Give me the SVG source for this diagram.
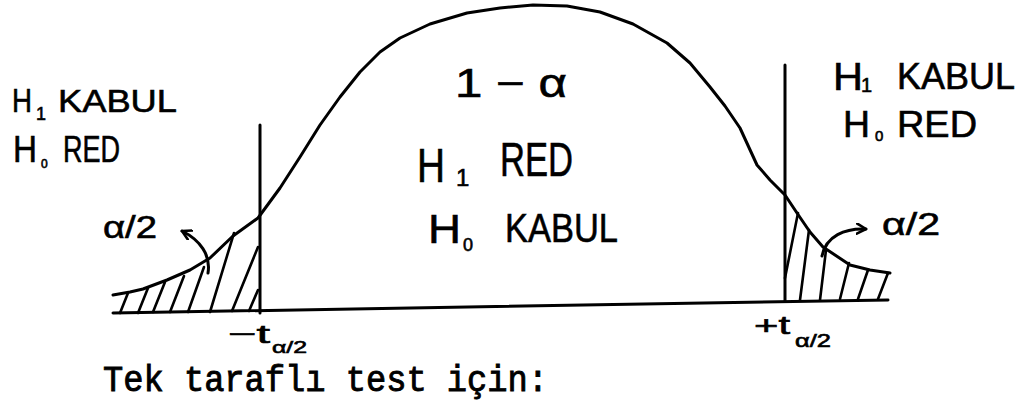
<svg xmlns="http://www.w3.org/2000/svg" width="1022" height="401" viewBox="0 0 1022 401">
<defs>
<style>
.ln{fill:none;stroke:#000;stroke-width:3;stroke-linecap:round;stroke-linejoin:round}
.h{fill:none;stroke:#000;stroke-width:2.6;stroke-linecap:round}
.hw{font-family:"Liberation Sans","DejaVu Sans",sans-serif;fill:#000;stroke:#000;stroke-width:0.6}
.tw{font-family:"Liberation Mono","DejaVu Sans Mono",monospace;fill:#000;stroke:#000;stroke-width:0.9}
</style>
<marker id="ah" viewBox="0 0 12 12" refX="10" refY="6" markerWidth="12" markerHeight="12" markerUnits="userSpaceOnUse" orient="auto">
<path d="M1,1 L10,6 L1,11" fill="none" stroke="#000" stroke-width="2.6" stroke-linecap="round" stroke-linejoin="round"/>
</marker>
</defs>
<rect width="1022" height="401" fill="#fff"/>
<g id="curve">
<polyline class="ln" points="113,295 130,292 143,289 167,280 190,270 210,258 233,236 258,218 280,188 300,157 320,125 340,97 360,72 380,52 400,38 430,24 467,13 500,8 533,5 567,6 600,12 633,24 667,43 690,63 710,87 725,106 740,128 757,165 770,180 785,195 797,213 810,232 823,247 850,265 870,270 890,273"/>
<line class="ln" x1="113" y1="313" x2="888" y2="300"/>
<line class="ln" x1="260" y1="125" x2="260" y2="313"/>
<line class="ln" x1="785" y1="65" x2="785" y2="301"/>
</g>
<g id="hatch-left">
<line class="h" x1="120" y1="313" x2="128" y2="293"/>
<line class="h" x1="138" y1="313" x2="148" y2="288"/>
<line class="h" x1="153" y1="312" x2="165" y2="282"/>
<line class="h" x1="170" y1="312" x2="184" y2="276"/>
<line class="h" x1="188" y1="312" x2="204" y2="267"/>
<line class="h" x1="210" y1="312" x2="234" y2="233"/>
<line class="h" x1="232" y1="311" x2="258" y2="247"/>
<line class="h" x1="249" y1="311" x2="258" y2="290"/>
</g>
<g id="hatch-right">
<line class="h" x1="785" y1="278" x2="798" y2="213"/>
<line class="h" x1="800" y1="300" x2="809" y2="230"/>
<line class="h" x1="820" y1="300" x2="826" y2="250"/>
<line class="h" x1="840" y1="299" x2="849" y2="263"/>
<line class="h" x1="858" y1="299" x2="868" y2="270"/>
<line class="h" x1="878" y1="299" x2="888" y2="273"/>
</g>
<g id="connectors">
<path class="ln" d="M208,273 C211,255 200,240 182,231" marker-end="url(#ah)"/>
<path class="ln" d="M822,256 C826,236 845,228 866,229" marker-end="url(#ah)"/>
</g>
<g id="left-label">
<text class="hw" x="12" y="112" font-size="34" textLength="20" lengthAdjust="spacingAndGlyphs">H</text>
<text class="hw" x="36" y="120" font-size="18">1</text>
<text class="hw" x="58" y="112" font-size="32" textLength="119" lengthAdjust="spacingAndGlyphs">KABUL</text>
<text class="hw" x="13" y="162" font-size="36" textLength="24" lengthAdjust="spacingAndGlyphs">H</text>
<text class="hw" x="41" y="168" font-size="12">0</text>
<text class="hw" x="63" y="162" font-size="36" textLength="57" lengthAdjust="spacingAndGlyphs">RED</text>
</g>
<g id="right-label">
<text class="hw" x="833" y="90" font-size="38" textLength="30" lengthAdjust="spacingAndGlyphs">H</text>
<text class="hw" x="861" y="92" font-size="20">1</text>
<text class="hw" x="897" y="89" font-size="36" textLength="118" lengthAdjust="spacingAndGlyphs">KABUL</text>
<text class="hw" x="843" y="137" font-size="36" textLength="27" lengthAdjust="spacingAndGlyphs">H</text>
<text class="hw" x="875" y="141" font-size="15">0</text>
<text class="hw" x="897" y="137" font-size="36" textLength="80" lengthAdjust="spacingAndGlyphs">RED</text>
</g>
<g id="center-label">
<text class="hw" x="455" y="97" font-size="40" textLength="112" lengthAdjust="spacingAndGlyphs" stroke-width="0">1 − α</text>
<text class="hw" x="417" y="182" font-size="48" textLength="28" lengthAdjust="spacingAndGlyphs">H</text>
<text class="hw" x="456" y="186" font-size="24">1</text>
<text class="hw" x="500" y="176" font-size="48" textLength="73" lengthAdjust="spacingAndGlyphs">RED</text>
<text class="hw" x="428" y="243" font-size="40" textLength="33" lengthAdjust="spacingAndGlyphs">H</text>
<text class="hw" x="463" y="251" font-size="18">0</text>
<text class="hw" x="505" y="242" font-size="40" textLength="113" lengthAdjust="spacingAndGlyphs">KABUL</text>
</g>
<g id="alpha-left">
<text class="hw" x="103" y="238" font-size="32" textLength="54" lengthAdjust="spacingAndGlyphs">α/2</text>
</g>
<g id="alpha-right">
<text class="hw" x="882" y="235" font-size="32" textLength="58" lengthAdjust="spacingAndGlyphs">α/2</text>
</g>
<g id="t-left">
<text class="hw" x="228" y="343" font-size="26" textLength="42" lengthAdjust="spacingAndGlyphs">−t</text>
<text class="hw" x="272" y="353" font-size="16" textLength="35" lengthAdjust="spacingAndGlyphs">α/2</text>
</g>
<g id="t-right">
<text class="hw" x="754" y="334" font-size="26" textLength="36" lengthAdjust="spacingAndGlyphs">+t</text>
<text class="hw" x="795" y="347" font-size="18" textLength="36" lengthAdjust="spacingAndGlyphs">α/2</text>
</g>
<g id="caption">
<text class="tw" x="103" y="391" font-size="36" textLength="445" lengthAdjust="spacingAndGlyphs">Tek taraflı test için:</text>
</g>
</svg>
